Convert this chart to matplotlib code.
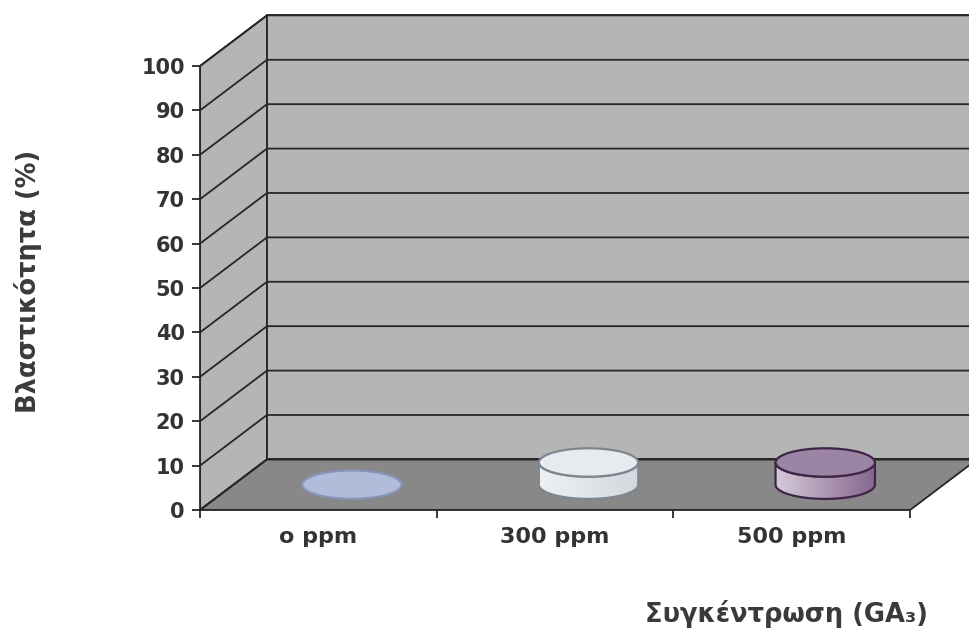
import numpy as np
import matplotlib
matplotlib.use("Agg")
import matplotlib.pyplot as plt
from matplotlib.patches import Polygon, Ellipse
from matplotlib.colors import LinearSegmentedColormap

# ---- data ----
categories = ["o ppm", "300 ppm", "500 ppm"]
values = [0, 5, 5]
yticks = list(range(0, 101, 10))
ylabel = "Βλαστικότητα (%)"
xlabel = "Συγκέντρωση (GA₃)"

# ---- styles ----
side_colors = [("#b9c2df", "#9eaad0"), ("#eef1f4", "#d3d8de"), ("#d6cad9", "#85668c")]
top_colors = ["#b2bbd9", "#e7ebef", "#9c84a4"]
edge_colors = ["#8594b8", "#7e868f", "#3f2646"]
wall_color = "#b5b5b5"
floor_color = "#888888"
line_color = "#262626"
text_color = "#333333"

plt.rcParams['font.family'] = ['DejaVu Sans']

fig = plt.figure(figsize=(9.7, 6.36), dpi=100)
fig.patch.set_facecolor("white")
ax = fig.add_axes([200/970, 126/636, 770/970, 510/636])

n = len(categories)
ymax = 100
depth_x = 0.283   # depth offset in category units
depth_y = 11.4    # depth offset in value units

# walls
side = Polygon([(0, 0), (depth_x, depth_y), (depth_x, ymax + depth_y), (0, ymax)],
               closed=True, fc=wall_color, ec=line_color, lw=1.3, zorder=1)
back = Polygon([(depth_x, depth_y), (n + depth_x + 1, depth_y),
                (n + depth_x + 1, ymax + depth_y), (depth_x, ymax + depth_y)],
               closed=True, fc=wall_color, ec=line_color, lw=1.3, zorder=1)
floor = Polygon([(0, 0), (n, 0), (n + depth_x, depth_y), (depth_x, depth_y)],
                closed=True, fc=floor_color, ec=line_color, lw=1.3, zorder=1.2)
for p in (side, back, floor):
    ax.add_patch(p)

# gridlines
for v in yticks:
    ax.plot([0, depth_x, n + depth_x + 1], [v, v + depth_y, v + depth_y],
            color=line_color, lw=1.3, zorder=1.5, solid_capstyle='butt')

# cylinders
a = 0.21
b = 3.2
for i, (cat, val) in enumerate(zip(categories, values)):
    cx = i + 0.5 + depth_x / 2
    base = depth_y / 2
    top = base + val
    edge = edge_colors[i]
    if val > 0:
        t = np.linspace(np.pi, 2 * np.pi, 80)
        lower = np.c_[cx + a * np.cos(t), base + b * np.sin(t)]
        upper = np.c_[cx + a * np.cos(t[::-1]), top + b * np.sin(t[::-1])]
        verts = np.vstack([lower, upper])
        sidepoly = Polygon(verts, closed=True, fc='none', ec=edge, lw=1.6, zorder=3.2)
        ax.add_patch(sidepoly)
        cmap = LinearSegmentedColormap.from_list("c%d" % i, list(side_colors[i]))
        grad = np.linspace(0, 1, 256).reshape(1, -1)
        im = ax.imshow(grad, extent=[cx - a, cx + a, base - b, top + b], aspect='auto',
                       cmap=cmap, zorder=3, interpolation='bilinear')
        im.set_clip_path(sidepoly)
    ax.add_patch(Ellipse((cx, top), 2 * a, 2 * b, fc=top_colors[i], ec=edge,
                         lw=1.6, zorder=3.5))

ax.set_xlim(0, 770/236.7)
ax.set_ylim(0, 510/4.44)

# axes / ticks
for s in ("top", "right"):
    ax.spines[s].set_visible(False)
ax.spines["left"].set_bounds(0, ymax)
ax.spines["bottom"].set_bounds(0, n)
for s in ("left", "bottom"):
    ax.spines[s].set_color(line_color)
    ax.spines[s].set_linewidth(1.3)
    ax.spines[s].set_zorder(4)

ax.set_yticks(yticks)
ax.set_yticklabels([str(v) for v in yticks], fontsize=15, fontweight='bold', color=text_color)
ax.tick_params(axis='y', length=6, width=1.3, color=line_color, pad=5)

ax.set_xticks(range(0, n + 1))
ax.set_xticklabels([])
ax.tick_params(axis='x', which='major', length=6, width=1.3, color=line_color)
ax.set_xticks([i + 0.5 for i in range(n)], minor=True)
ax.set_xticklabels(categories, minor=True, fontsize=16, fontweight='bold', color=text_color)
ax.tick_params(axis='x', which='minor', length=0, pad=12)

fig.text(28/970, 1 - 281/636, ylabel, rotation=90, ha='center', va='center',
         fontsize=18.5, fontweight='bold', color="#3a3a3a")
fig.text(787/970, 1 - 614/636, xlabel, ha='center', va='center',
         fontsize=18.5, fontweight='bold', color="#3a3a3a")

fig.savefig("out.png", dpi=100, facecolor="white")
